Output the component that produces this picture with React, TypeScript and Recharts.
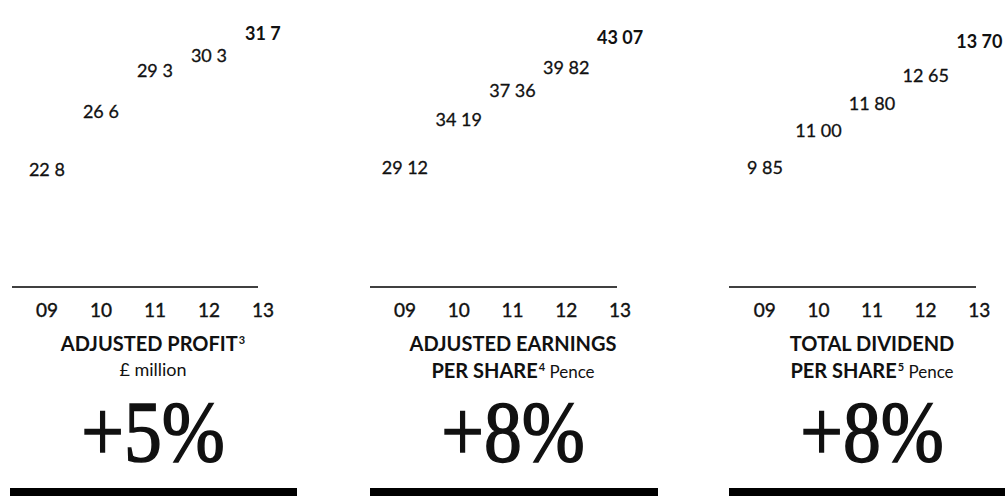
import React from 'react';
import { BarChart, Bar, XAxis, YAxis, LabelList } from 'recharts';

const years = ['09', '10', '11', '12', '13'];
const adjustedProfit = [22.8, 26.6, 29.3, 30.3, 31.7];
const adjustedEps = [29.12, 34.19, 37.36, 39.82, 43.07];
const totalDividend = [9.85, 11.0, 11.8, 12.65, 13.7];

const titles1 = ['ADJUSTED PROFIT', 'ADJUSTED EARNINGS', 'TOTAL DIVIDEND'];
const titles2 = ['', 'PER SHARE', 'PER SHARE'];
const notes = ['3', '4', '5'];
const units = ['£ million', 'Pence', 'Pence'];
const changes = ['+5%', '+8%', '+8%'];

const FONT = 'Lato, "Open Sans", sans-serif';

type PanelProps = {
  values: number[];
  decimals: number;
  domain: [number, number];
  left: number;
  width: number;
  ml: number;
  mr: number;
  pl: number;
  pr: number;
};

const makeLabel = (decimals: number) => (props: any) => {
  const { x, y, width, value, index } = props;
  const text = Number(value).toFixed(decimals).replace('.', ' ');
  return (
    <text
      x={Number(x) + Number(width) / 2}
      y={Number(y) - 5}
      textAnchor="middle"
      fontSize={18}
      fontFamily={FONT}
      fontWeight={index === 4 ? 700 : 400}
      fill="#111"
      stroke="#111"
      strokeWidth={index === 4 ? 0 : 0.3}
    >
      {text}
    </text>
  );
};

function Panel({ values, decimals, domain, left, width, ml, mr, pl, pr }: PanelProps) {
  const rows = years.map((y, i) => ({ year: y, value: values[i] }));
  return (
    <div style={{ position: 'absolute', left, top: 0 }}>
      <BarChart width={width} height={330} data={rows} margin={{ top: 10, right: mr, bottom: 13, left: ml }}>
        <XAxis
          dataKey="year"
          height={30}
          interval={0}
          padding={{ left: pl, right: pr }}
          tickLine={false}
          tickMargin={11}
          axisLine={{ stroke: '#000', strokeWidth: 1.6 }}
          tick={{ fontSize: 19, fill: '#111', fontFamily: FONT, stroke: '#111', strokeWidth: 0.4 }}
        />
        <YAxis hide type="number" domain={domain} allowDataOverflow />
        <Bar dataKey="value" fill="#ffffff" isAnimationActive={false}>
          <LabelList dataKey="value" content={makeLabel(decimals)} />
        </Bar>
      </BarChart>
    </div>
  );
}

const centers = [153, 513, 872];
const blackBars = [
  [10, 297],
  [370, 658],
  [729, 1005],
];

const supStyle: React.CSSProperties = { fontSize: 11, position: 'relative', top: -7, marginLeft: 1 };

export default function App() {
  return (
    <div
      style={{
        position: 'absolute',
        left: 0,
        top: 0,
        width: 1007,
        height: 496,
        background: '#fff',
        overflow: 'hidden',
        fontFamily: FONT,
        color: '#111',
      }}
    >
      <Panel values={adjustedProfit} decimals={1} domain={[15.84, 34.01]} left={0} width={300} ml={12} mr={42} pl={8} pr={-32} />
      <Panel values={adjustedEps} decimals={2} domain={[17.48, 47.23]} left={340} width={340} ml={30} mr={63} pl={8} pr={-30} />
      <Panel values={totalDividend} decimals={2} domain={[6.59, 14.99]} left={680} width={327} ml={49} mr={31} pl={9} pr={-30} />

      {centers.map((c, i) => (
        <div key={'t' + i} style={{ position: 'absolute', left: c - 150, top: 330, width: 300, textAlign: 'center' }}>
          <div style={{ fontSize: 20, lineHeight: '27px', fontWeight: 700, height: 27 }}>
            {titles1[i]}
            {i === 0 ? <span style={supStyle}>{notes[i]}</span> : null}
          </div>
          {i === 0 ? (
            <div style={{ fontSize: 18, lineHeight: '24px' }}>{units[i]}</div>
          ) : (
            <div style={{ fontSize: 20, lineHeight: '27px', fontWeight: 700, height: 27 }}>
              {titles2[i]}
              <span style={supStyle}>{notes[i]}</span>
              <span style={{ fontSize: 17, fontWeight: 400 }}> {units[i]}</span>
            </div>
          )}
        </div>
      ))}

      {centers.map((c, i) => (
        <div
          key={'c' + i}
          style={{
            position: 'absolute',
            left: c - 150,
            top: 389,
            width: 300,
            textAlign: 'center',
            fontFamily: '"Liberation Serif", "Times New Roman", serif',
            fontSize: 86,
            fontWeight: 400,
            lineHeight: '86px',
            transform: 'scaleX(0.88)',
            WebkitTextStroke: '1.6px #111',
          }}
        >
          {changes[i]}
        </div>
      ))}

      {blackBars.map((b, i) => (
        <div key={'b' + i} style={{ position: 'absolute', left: b[0], top: 488, width: b[1] - b[0], height: 8, background: '#000' }} />
      ))}
    </div>
  );
}
